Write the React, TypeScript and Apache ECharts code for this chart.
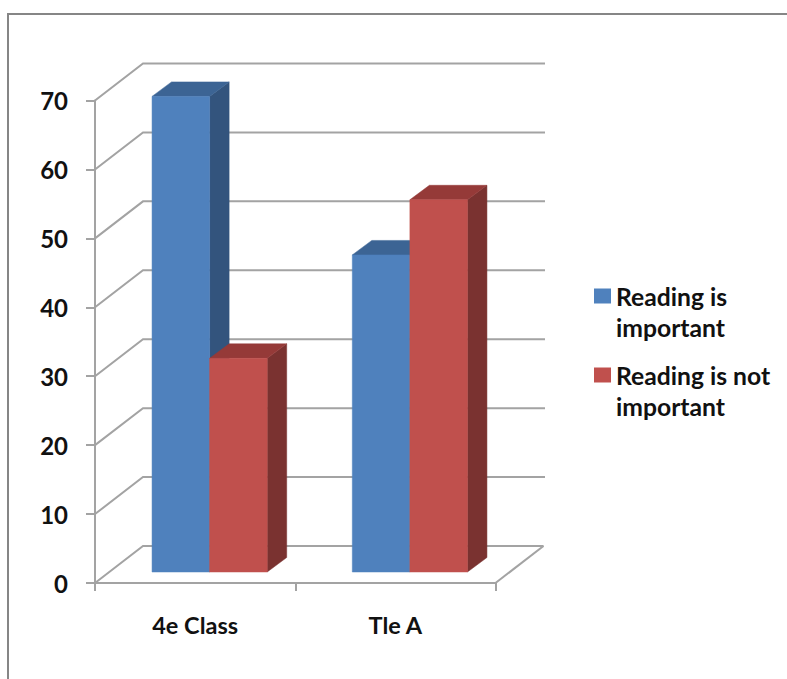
import React, { useEffect, useRef } from "react";
import * as echarts from "echarts";

const categories = ["4e Class", "Tle A"];
const seriesNames = ["Reading is important", "Reading is not important"];
const importantValues = [69, 46];
const notImportantValues = [31, 54];
const wallLevels = [0, 10, 20, 30, 40, 50, 60, 70];

const FONT = "Lato, 'Open Sans', sans-serif";
const TEXT = "#111111";
const RULE = "#a3a3a3";

// Projection of the chart's depth axis, in pixels.
const WALL_DX = 48;
const WALL_DY = -37;
const BAR_SHIFT_X = 14.5;
const BAR_SHIFT_Y = -11;
const BAR_DX = 19.5;
const BAR_DY = -14.5;
const BAR_BAND_SHARE = 0.2875;

function wallRenderer(params: any, api: any) {
  const level = api.value(0);
  const half = api.size([1, 0])[0] / 2;
  const left = api.coord([0, level]);
  const right = api.coord([1, level]);
  const x0 = left[0] - half;
  const x1 = right[0] + half;
  const y = left[1];
  const style = { stroke: RULE, lineWidth: 2, fill: "none" };
  const children: any[] = [
    {
      type: "polyline",
      shape: { points: [[x0, y], [x0 + WALL_DX, y + WALL_DY], [x1 + WALL_DX + (level === 0 ? 0 : 1.5), y + WALL_DY]] },
      style,
    },
  ];
  if (level === 0) {
    children.push({
      type: "line",
      shape: { x1, y1: y, x2: x1 + WALL_DX, y2: y + WALL_DY },
      style,
    });
  }
  return { type: "group", children };
}

function barRenderer(offset: number, front: string, top: string, side: string) {
  return (params: any, api: any) => {
    const cat = api.value(0);
    const base = api.coord([cat, 0]);
    const peak = api.coord([cat, api.value(1)]);
    const w = api.size([1, 0])[0] * BAR_BAND_SHARE;
    const x0 = base[0] + BAR_SHIFT_X + offset * w;
    const x1 = x0 + w;
    const y0 = base[1] + BAR_SHIFT_Y;
    const y1 = peak[1] + BAR_SHIFT_Y;
    const poly = (points: number[][], fill: string) => ({
      type: "polygon",
      shape: { points },
      style: { fill, stroke: fill, lineWidth: 0.5 },
    });
    return {
      type: "group",
      children: [
        poly([[x1, y0], [x1 + BAR_DX, y0 + BAR_DY], [x1 + BAR_DX, y1 + BAR_DY], [x1, y1]], side),
        poly([[x0, y1], [x0 + BAR_DX, y1 + BAR_DY], [x1 + BAR_DX, y1 + BAR_DY], [x1, y1]], top),
        poly([[x0, y0], [x1, y0], [x1, y1], [x0, y1]], front),
      ],
    };
  };
}

export default function App() {
  const ref = useRef<HTMLDivElement>(null);

  useEffect(() => {
    const chart = echarts.init(ref.current!, undefined, { renderer: "svg" });
    chart.setOption({
      animation: false,
      backgroundColor: "#ffffff",
      textStyle: { fontFamily: FONT },
      grid: { left: 95, top: 100.5, width: 400.5, height: 482.5 },
      xAxis: {
        type: "category",
        data: categories,
        axisLine: { lineStyle: { color: RULE, width: 2 } },
        axisTick: { show: true, length: 8, alignWithLabel: false, lineStyle: { color: RULE, width: 2 } },
        axisLabel: { color: TEXT, fontSize: 23.5, fontWeight: "bold", fontFamily: FONT, margin: 30 },
      },
      yAxis: {
        type: "value",
        min: 0,
        max: 70,
        interval: 10,
        splitLine: { show: false },
        axisLine: { show: true, lineStyle: { color: RULE, width: 2 } },
        axisTick: { show: true, length: 9, lineStyle: { color: RULE, width: 2 } },
        axisLabel: { color: TEXT, fontSize: 24, fontWeight: "bold", fontFamily: FONT, margin: 27 },
      },
      legend: {
        orient: "vertical",
        left: 589,
        top: 244.5,
        icon: "rect",
        itemWidth: 17,
        itemHeight: 15,
        itemGap: -14,
        data: seriesNames,
        // The empty first line keeps the swatch level with the first line of text.
        formatter: (name: string) =>
          name === seriesNames[0] ? "\nReading is\nimportant" : "\nReading is not\nimportant",
        textStyle: {
          color: TEXT,
          fontSize: 24.7,
          fontWeight: "bold",
          fontFamily: FONT,
          lineHeight: 31,
        },
      },
      series: [
        {
          type: "custom",
          name: "walls",
          silent: true,
          clip: false,
          renderItem: wallRenderer,
          data: wallLevels.map((v) => [v]),
          encode: { y: 0 },
        },
        {
          type: "custom",
          name: seriesNames[0],
          clip: false,
          itemStyle: { color: "#4f81bd" },
          renderItem: barRenderer(-1, "#4f81bd", "#3c6494", "#33547d"),
          data: importantValues.map((v, i) => [i, v]),
          encode: { x: 0, y: 1 },
        },
        {
          type: "custom",
          name: seriesNames[1],
          clip: false,
          itemStyle: { color: "#c0504d" },
          renderItem: barRenderer(0, "#c0504d", "#953a38", "#7a3230"),
          data: notImportantValues.map((v, i) => [i, v]),
          encode: { x: 0, y: 1 },
        },
      ],
      graphic: [
        {
          type: "rect",
          silent: true,
          shape: { x: 8, y: 14, width: 900, height: 800 },
          style: { fill: "none", stroke: "#868686", lineWidth: 2 },
        },
      ],
    });
    return () => chart.dispose();
  }, []);

  return (
    <div
      ref={ref}
      style={{ position: "fixed", left: 0, top: 0, width: 787, height: 679 }}
    />
  );
}
